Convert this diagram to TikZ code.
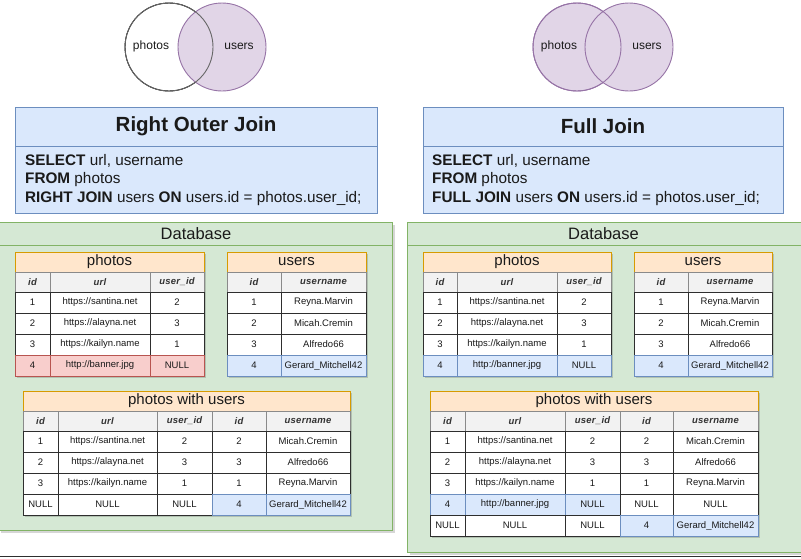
\documentclass[tikz,border=0pt]{standalone}
\usepackage{fontspec}
\setmainfont{Liberation Sans}
\usepackage{tikz}
\definecolor{blueF}{HTML}{DAE8FC}
\definecolor{blueD}{HTML}{6C8EBF}
\definecolor{greenF}{HTML}{D5E8D4}
\definecolor{greenD}{HTML}{82B366}
\definecolor{orangeF}{HTML}{FFE6CC}
\definecolor{orangeD}{HTML}{D79B00}
\definecolor{redF}{HTML}{F8CECC}
\definecolor{redD}{HTML}{B85450}
\definecolor{purpleF}{HTML}{E1D5E7}
\definecolor{purpleD}{HTML}{9673A6}
\definecolor{headF}{HTML}{F2F2F2}
\definecolor{headD}{HTML}{8A8A8A}
\definecolor{ink}{HTML}{1A1A1A}
\definecolor{rule}{HTML}{2E2E2E}
\tikzset{
  venn/.style={circle, minimum size=88pt, inner sep=0pt, line width=0.9pt},
  vennlab/.style={text=ink, font=\fontsize{12}{14}\selectfont},
  box/.style={anchor=north west, inner sep=0pt, outer sep=0pt, line width=0.9pt},
  titlebox/.style={box, fill=blueF, draw=blueD},
  dbbox/.style={box, fill=greenF, draw=greenD},
  shade/.style={fill=black, opacity=0.16},
  jointitle/.style={text=ink, font=\fontsize{20.5}{24}\selectfont\bfseries},
  sql/.style={anchor=west, align=left, inner sep=0pt, text=ink,
    font=\fontsize{15.3}{18.5}\selectfont},
  dbtitle/.style={text=ink, font=\fontsize{16.5}{19}\selectfont},
  cellbase/.style={box, line width=0.8pt, minimum height=21pt,
    text=ink, font=\fontsize{9.5}{11}\selectfont},
  tabtitle/.style={cellbase, minimum height=20pt, fill=orangeF, draw=orangeD,
    font=\fontsize{15}{17}\selectfont},
  colhead/.style={cellbase, minimum height=20pt, fill=headF, draw=headD,
    text=black!80, font=\fontsize{9.5}{11}\selectfont\bfseries\itshape\addfontfeatures{LetterSpace=3}},
  plain/.style={cellbase, fill=white, draw=rule},
  redcell/.style={cellbase, fill=redF, draw=redD},
  bluecell/.style={cellbase, fill=blueF, draw=blueD},
}
% name, left, right, top, style, text
\newcommand{\cell}[6]{\node[#5, minimum width={#3-#2}] (#1) at (#2,#4) {#6};}

\begin{document}
\begin{tikzpicture}[x=1pt,y=-1pt]
\useasboundingbox (0,0) rectangle (801,558);

% shadows under containers and tables
\fill[shade] (1,225) rectangle (395,533);
\fill[shade] (410,225) rectangle (807,555);

% ---------------- Right outer join ----------------
\node[venn, fill=white, draw=black] (photosL) at (169,47) {};
\node[venn, fill=purpleF, draw=purpleD] (usersL) at (222,47) {};
\node[venn, draw=black!60] (photosLrim) at (169,47) {};
\node[vennlab] (photosLlab) at (151,46) {photos};
\node[vennlab] (usersLlab) at (239,46) {users};

\node[titlebox, minimum width=362pt, minimum height=106pt] (boxL) at (15,107) {};
\draw[blueD, line width=0.9pt] ([yshift=-39pt]boxL.north west) -- ([yshift=-39pt]boxL.north east);
\node[jointitle] (titleL) at (196,126.5) {Right Outer Join};
\node[sql] (sqlL) at (25,180) {\textbf{SELECT} url, username\\
  \textbf{FROM} photos\\
  \textbf{RIGHT JOIN} users \textbf{ON} users.id = photos.user\_id;};

\node[dbbox, minimum width=394pt, minimum height=308pt] (dbL) at (-2,222) {};
\draw[greenD, line width=0.9pt] ([yshift=-23pt]dbL.north west) -- ([yshift=-23pt]dbL.north east);
\node[dbtitle] (dbLlab) at (196,233.5) {Database};

\fill[shade] (17,254) rectangle (206,378);
\fill[shade] (229,254) rectangle (368,378);
\fill[shade] (25,393) rectangle (352,517);

% photos
\cell{phL}{15}{204}{252}{tabtitle}{photos}
\cell{phLh1}{15}{50}{272}{colhead}{id}
\cell{phLh2}{50}{150}{272}{colhead}{url}
\cell{phLh3}{150}{204}{272}{colhead}{user\_id}
\cell{phLa1}{15}{50}{292}{plain}{1}
\cell{phLa2}{50}{150}{292}{plain}{https://santina.net}
\cell{phLa3}{150}{204}{292}{plain}{2}
\cell{phLb1}{15}{50}{313}{plain}{2}
\cell{phLb2}{50}{150}{313}{plain}{https://alayna.net}
\cell{phLb3}{150}{204}{313}{plain}{3}
\cell{phLc1}{15}{50}{334}{plain}{3}
\cell{phLc2}{50}{150}{334}{plain}{https://kailyn.name}
\cell{phLc3}{150}{204}{334}{plain}{1}
\cell{phLd1}{15}{50}{355}{redcell}{4}
\cell{phLd2}{50}{150}{355}{redcell}{http://banner.jpg}
\cell{phLd3}{150}{204}{355}{redcell}{NULL}

% users
\cell{usL}{227}{366}{252}{tabtitle}{users}
\cell{usLh1}{227}{281}{272}{colhead}{id}
\cell{usLh2}{281}{366}{272}{colhead}{username}
\cell{usLa1}{227}{281}{292}{plain}{1}
\cell{usLa2}{281}{366}{292}{plain}{Reyna.Marvin}
\cell{usLb1}{227}{281}{313}{plain}{2}
\cell{usLb2}{281}{366}{313}{plain}{Micah.Cremin}
\cell{usLc1}{227}{281}{334}{plain}{3}
\cell{usLc2}{281}{366}{334}{plain}{Alfredo66}
\cell{usLd1}{227}{281}{355}{bluecell}{4}
\cell{usLd2}{281}{366}{355}{bluecell}{Gerard\_Mitchell42}

% photos with users
\cell{pwL}{23}{350}{391}{tabtitle}{photos with users}
\cell{pwLh1}{23}{58}{411}{colhead}{id}
\cell{pwLh2}{58}{157}{411}{colhead}{url}
\cell{pwLh3}{157}{212}{411}{colhead}{user\_id}
\cell{pwLh4}{212}{266}{411}{colhead}{id}
\cell{pwLh5}{266}{350}{411}{colhead}{username}
\cell{pwLa1}{23}{58}{431}{plain}{1}
\cell{pwLa2}{58}{157}{431}{plain}{https://santina.net}
\cell{pwLa3}{157}{212}{431}{plain}{2}
\cell{pwLa4}{212}{266}{431}{plain}{2}
\cell{pwLa5}{266}{350}{431}{plain}{Micah.Cremin}
\cell{pwLb1}{23}{58}{452}{plain}{2}
\cell{pwLb2}{58}{157}{452}{plain}{https://alayna.net}
\cell{pwLb3}{157}{212}{452}{plain}{3}
\cell{pwLb4}{212}{266}{452}{plain}{3}
\cell{pwLb5}{266}{350}{452}{plain}{Alfredo66}
\cell{pwLc1}{23}{58}{473}{plain}{3}
\cell{pwLc2}{58}{157}{473}{plain}{https://kailyn.name}
\cell{pwLc3}{157}{212}{473}{plain}{1}
\cell{pwLc4}{212}{266}{473}{plain}{1}
\cell{pwLc5}{266}{350}{473}{plain}{Reyna.Marvin}
\cell{pwLd1}{23}{58}{494}{plain}{NULL}
\cell{pwLd2}{58}{157}{494}{plain}{NULL}
\cell{pwLd3}{157}{212}{494}{plain}{NULL}
\cell{pwLd4}{212}{266}{494}{bluecell}{4}
\cell{pwLd5}{266}{350}{494}{bluecell}{Gerard\_Mitchell42}

% ---------------- Full join ----------------
\node[venn, fill=purpleF, draw=purpleD] (photosR) at (577,47) {};
\node[venn, fill=purpleF, draw=purpleD] (usersR) at (629,47) {};
\node[venn, draw=purpleD] (photosRrim) at (577,47) {};
\node[vennlab] (photosRlab) at (559,46) {photos};
\node[vennlab] (usersRlab) at (647,46) {users};

\node[titlebox, minimum width=360pt, minimum height=106pt] (boxR) at (423,107) {};
\draw[blueD, line width=0.9pt] ([yshift=-39pt]boxR.north west) -- ([yshift=-39pt]boxR.north east);
\node[jointitle] (titleR) at (603,126.5) {Full Join};
\node[sql] (sqlR) at (432,180) {\textbf{SELECT} url, username\\
  \textbf{FROM} photos\\
  \textbf{FULL JOIN} users \textbf{ON} users.id = photos.user\_id;};

\node[dbbox, minimum width=397pt, minimum height=330pt] (dbR) at (407,222) {};
\draw[greenD, line width=0.9pt] ([yshift=-23pt]dbR.north west) -- ([yshift=-23pt]dbR.north east);
\node[dbtitle] (dbRlab) at (603.5,233.5) {Database};

\fill[shade] (425,254) rectangle (613,378);
\fill[shade] (636,254) rectangle (774,378);
\fill[shade] (432,393) rectangle (760,538);

% photos
\cell{phR}{423}{611}{252}{tabtitle}{photos}
\cell{phRh1}{423}{457}{272}{colhead}{id}
\cell{phRh2}{457}{557}{272}{colhead}{url}
\cell{phRh3}{557}{611}{272}{colhead}{user\_id}
\cell{phRa1}{423}{457}{292}{plain}{1}
\cell{phRa2}{457}{557}{292}{plain}{https://santina.net}
\cell{phRa3}{557}{611}{292}{plain}{2}
\cell{phRb1}{423}{457}{313}{plain}{2}
\cell{phRb2}{457}{557}{313}{plain}{https://alayna.net}
\cell{phRb3}{557}{611}{313}{plain}{3}
\cell{phRc1}{423}{457}{334}{plain}{3}
\cell{phRc2}{457}{557}{334}{plain}{https://kailyn.name}
\cell{phRc3}{557}{611}{334}{plain}{1}
\cell{phRd1}{423}{457}{355}{bluecell}{4}
\cell{phRd2}{457}{557}{355}{bluecell}{http://banner.jpg}
\cell{phRd3}{557}{611}{355}{bluecell}{NULL}

% users
\cell{usR}{634}{772}{252}{tabtitle}{users}
\cell{usRh1}{634}{688}{272}{colhead}{id}
\cell{usRh2}{688}{772}{272}{colhead}{username}
\cell{usRa1}{634}{688}{292}{plain}{1}
\cell{usRa2}{688}{772}{292}{plain}{Reyna.Marvin}
\cell{usRb1}{634}{688}{313}{plain}{2}
\cell{usRb2}{688}{772}{313}{plain}{Micah.Cremin}
\cell{usRc1}{634}{688}{334}{plain}{3}
\cell{usRc2}{688}{772}{334}{plain}{Alfredo66}
\cell{usRd1}{634}{688}{355}{bluecell}{4}
\cell{usRd2}{688}{772}{355}{bluecell}{Gerard\_Mitchell42}

% photos with users
\cell{pwR}{430}{758}{391}{tabtitle}{photos with users}
\cell{pwRh1}{430}{465}{411}{colhead}{id}
\cell{pwRh2}{465}{565}{411}{colhead}{url}
\cell{pwRh3}{565}{620}{411}{colhead}{user\_id}
\cell{pwRh4}{620}{673}{411}{colhead}{id}
\cell{pwRh5}{673}{758}{411}{colhead}{username}
\cell{pwRa1}{430}{465}{431}{plain}{1}
\cell{pwRa2}{465}{565}{431}{plain}{https://santina.net}
\cell{pwRa3}{565}{620}{431}{plain}{2}
\cell{pwRa4}{620}{673}{431}{plain}{2}
\cell{pwRa5}{673}{758}{431}{plain}{Micah.Cremin}
\cell{pwRb1}{430}{465}{452}{plain}{2}
\cell{pwRb2}{465}{565}{452}{plain}{https://alayna.net}
\cell{pwRb3}{565}{620}{452}{plain}{3}
\cell{pwRb4}{620}{673}{452}{plain}{3}
\cell{pwRb5}{673}{758}{452}{plain}{Alfredo66}
\cell{pwRc1}{430}{465}{473}{plain}{3}
\cell{pwRc2}{465}{565}{473}{plain}{https://kailyn.name}
\cell{pwRc3}{565}{620}{473}{plain}{1}
\cell{pwRc4}{620}{673}{473}{plain}{1}
\cell{pwRc5}{673}{758}{473}{plain}{Reyna.Marvin}
\cell{pwRd1}{430}{465}{494}{bluecell}{4}
\cell{pwRd2}{465}{565}{494}{bluecell}{http://banner.jpg}
\cell{pwRd3}{565}{620}{494}{bluecell}{NULL}
\cell{pwRd4}{620}{673}{494}{plain}{NULL}
\cell{pwRd5}{673}{758}{494}{plain}{NULL}
\cell{pwRe1}{430}{465}{515}{plain}{NULL}
\cell{pwRe2}{465}{565}{515}{plain}{NULL}
\cell{pwRe3}{565}{620}{515}{plain}{NULL}
\cell{pwRe4}{620}{673}{515}{bluecell}{4}
\cell{pwRe5}{673}{758}{515}{bluecell}{Gerard\_Mitchell42}

% edge of the page
\draw[rule, line width=1.4pt] (0,556.5) -- (801,556.5);
\end{tikzpicture}
\end{document}
